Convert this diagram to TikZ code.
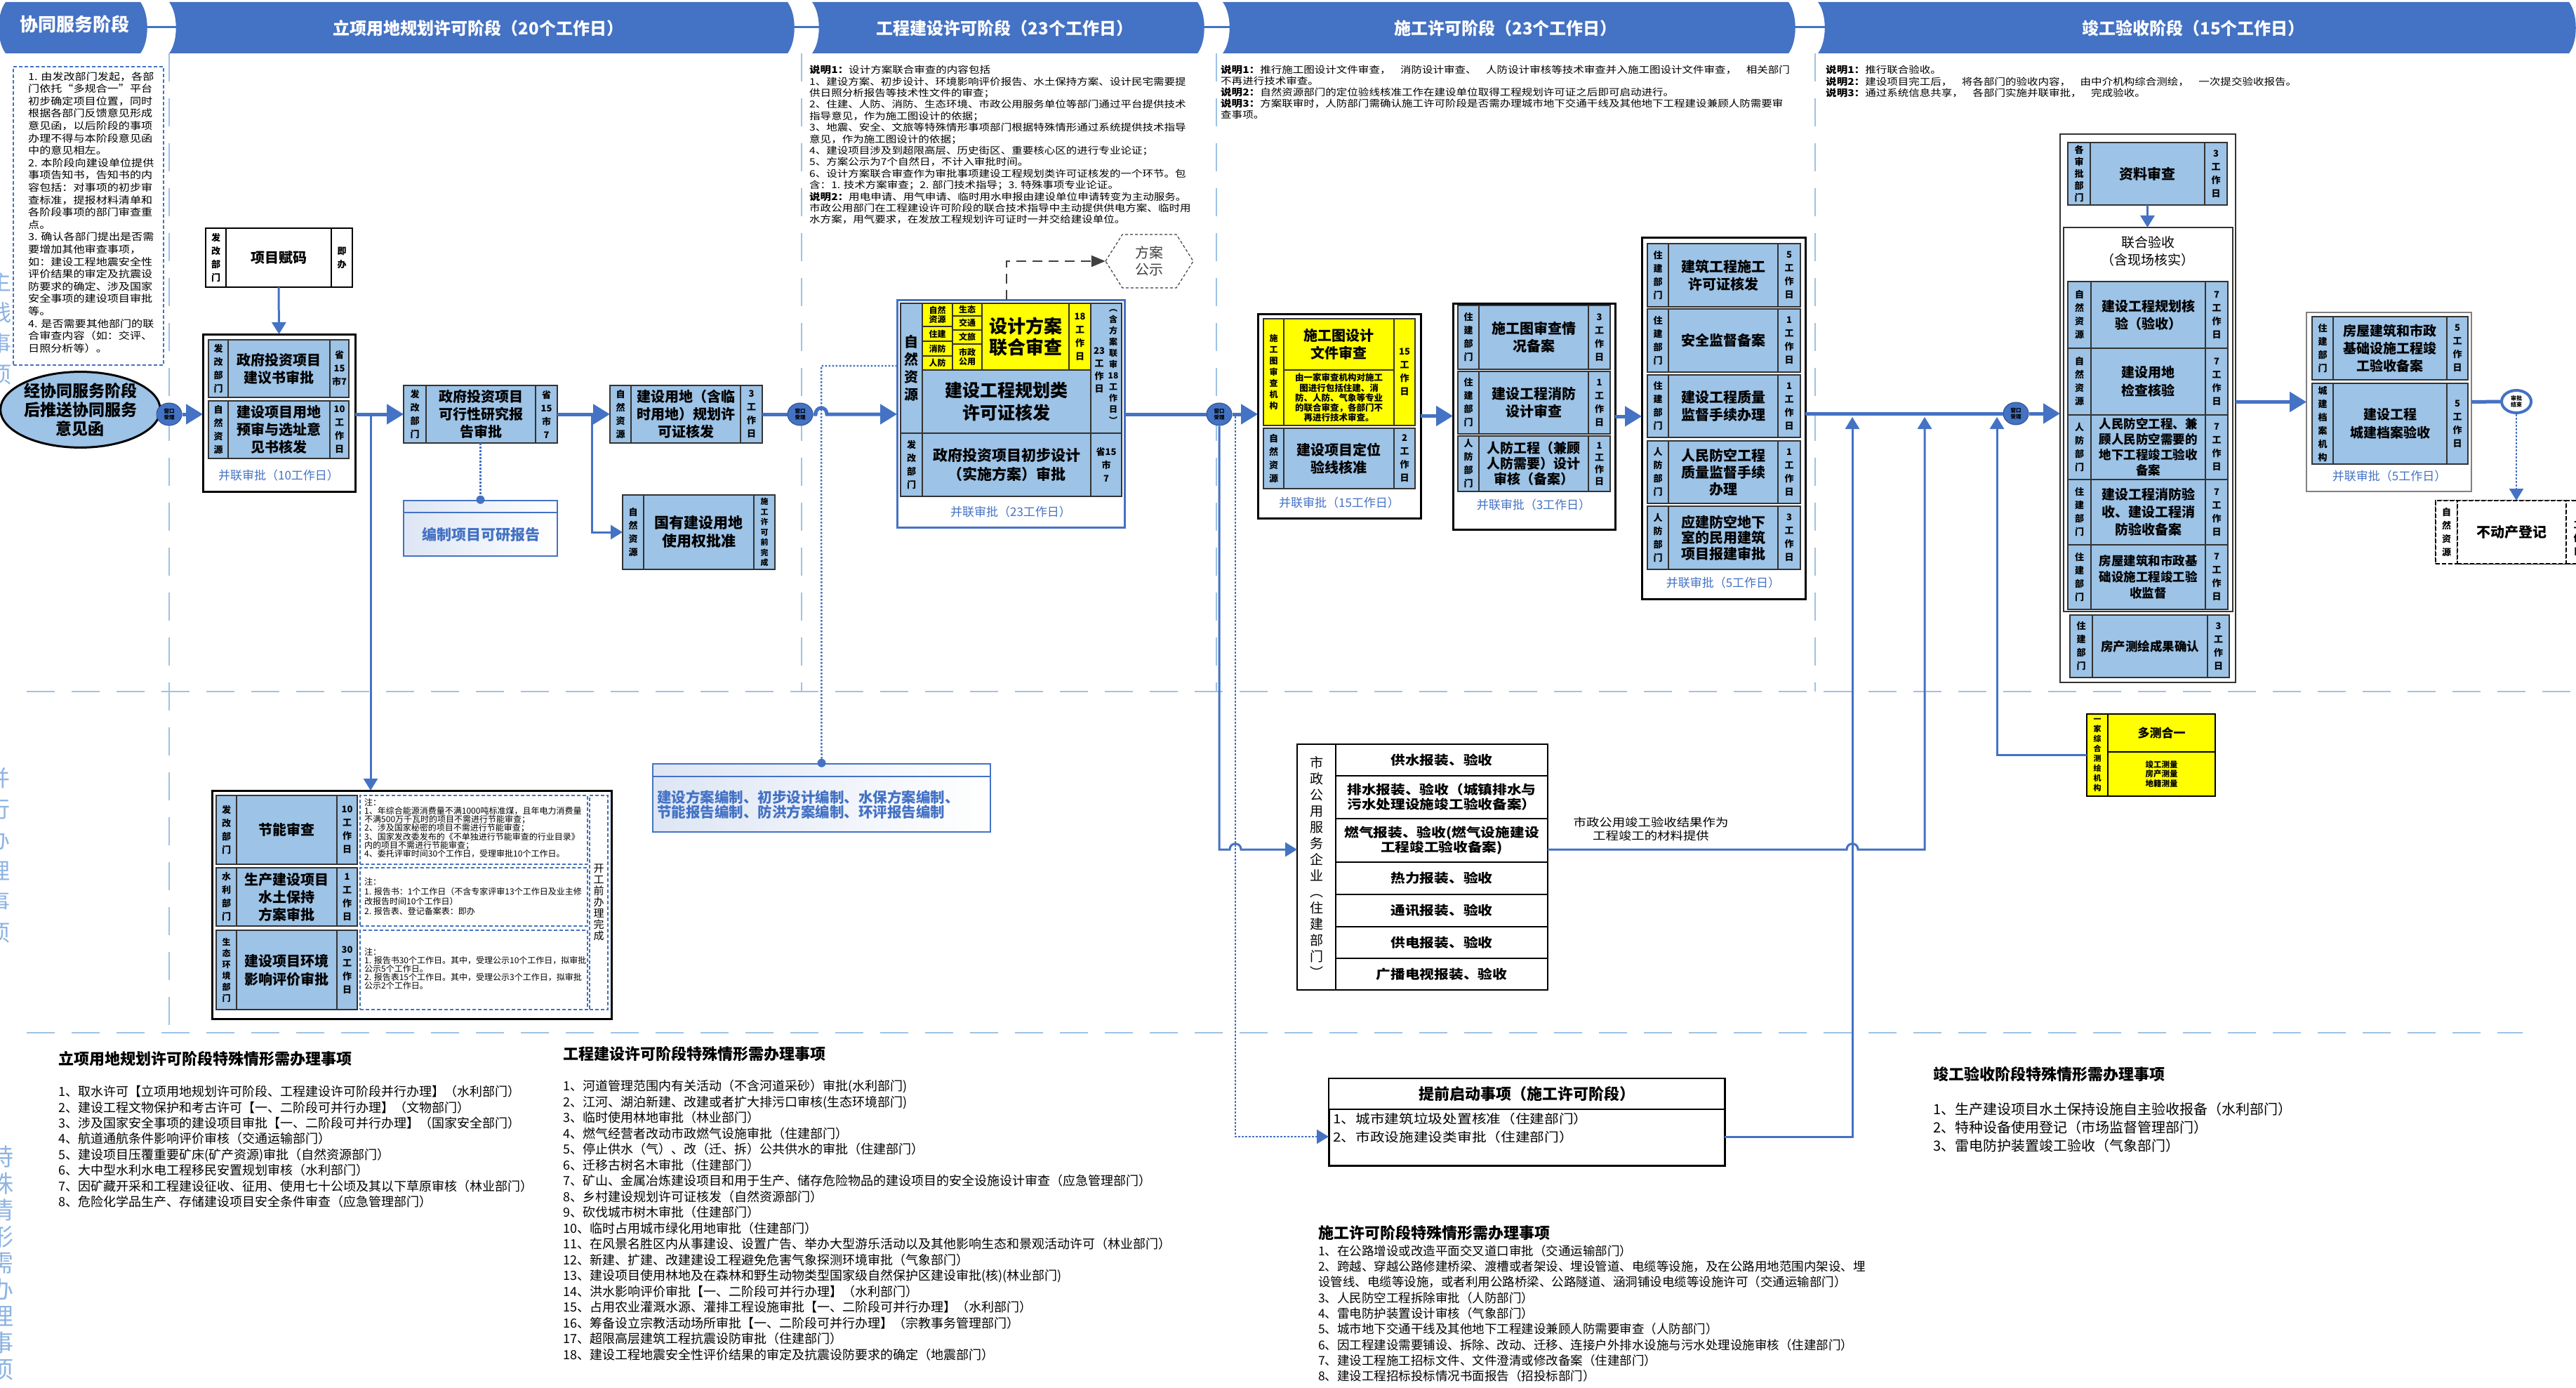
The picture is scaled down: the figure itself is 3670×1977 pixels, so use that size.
\documentclass[tikz,border=0pt]{standalone}
\usepackage{fontspec}
\setmainfont{Noto Sans CJK SC}
\newfontfamily\sfn{Noto Sans CJK SC}[FakeStretch=1.15]
\usetikzlibrary{arrows.meta,shapes.geometric,calc}
\definecolor{hb}{HTML}{4472C4}
\definecolor{cb}{HTML}{9DC3E6}
\definecolor{yl}{HTML}{FFFF00}
\definecolor{lbl}{HTML}{8EB4E3}
\definecolor{cbd}{HTML}{333333}
\definecolor{dg}{HTML}{404040}
\newcommand\fs[2]{\fontsize{#1}{#2}\selectfont}
\newcommand\cell[8][]{%
 \pgfmathsetmacro\cellW{#5-#3}\pgfmathsetmacro\cellH{#6-#4}%
 \pgfmathsetmacro\cellX{(#3+#5)/2}\pgfmathsetmacro\cellY{(#4+#6)/2}%
 \node[cellbase,fill=#7,minimum width=\cellW pt,minimum height=\cellH pt,#1] (#2) at (\cellX,\cellY) {#8};}
\newcommand\tabshape[4]{%
 \fill[hb] (#2,3) -- (#3,3) .. controls ({#3+13},20) and ({#3+13},59) .. (#3,76) -- (#2,76) .. controls ({#2+13},59) and ({#2+13},20) .. (#2,3) -- cycle;
 \node[headtxt] (#1) at ({(#2+#3)/2},40) {#4};}
\tikzset{
 cellbase/.style={draw=cbd,line width=1.5pt,inner sep=0pt,outer sep=0pt,align=center,text=black},
 grp/.style={draw=black,line width=3pt},
 vl/.style={font=\bfseries\fs{13}{#1}},vl/.default=19,
 ys/.style={font=\bfseries\fs{12}{12.5}},
 mt/.style 2 args={font=\bfseries\fs{#1}{#2}},
 lab/.style={text=hb,font=\fs{17}{20},inner sep=0pt},
 headtxt/.style={text=white,font=\bfseries\fs{24}{28},inner sep=0pt},
 sep/.style={draw=cb,line width=2.5pt,dash pattern=on 40pt off 24pt},
 main/.style={draw=hb,line width=5pt},
 mainarr/.style={main,-{Triangle[length=24pt,width=28pt]}},
 sec/.style={draw=hb,line width=3pt},
 secarr/.style={sec,-{Triangle[length=17pt,width=20pt]}},
 dotl/.style={draw=hb,line width=2.5pt,dash pattern=on 2.5pt off 2.5pt},
 dotarr/.style={dotl,-{Triangle[length=17pt,width=20pt]}},
 win/.style={ellipse,fill=hb,draw=hb!70!black,line width=1pt,minimum width=36pt,minimum height=32pt,inner sep=0pt,align=center,font=\bfseries\fs{7.5}{8.5},text=black},
 note/.style={anchor=north west,inner sep=0pt,align=left},
 side/.style={text=lbl,font=\fs{32}{44},align=center,inner sep=0pt},
 nbox/.style={draw=hb,line width=1.2pt,dash pattern=on 5pt off 3pt},
}
\begin{document}
\begin{tikzpicture}[x=1pt,y=-1pt]
\useasboundingbox (0,0) rectangle (3670,1977);
\fill[white] (0,0) rectangle (3670,1977);

% side labels (clipped at the page edge)
\node[side] (s1) at (0,467) {主\\线\\事\\项};
\node[side] (s2) at (-1,1218) {并\\行\\办\\理\\事\\项};
\node[side,font=\fs{34}{37.8}] (s3) at (3,1799) {特\\殊\\情\\形\\需\\办\\理\\事\\项};

% separators
\draw[sep] (241,76) -- (241,1471);
\draw[sep] (1142,76) -- (1142,985);
\draw[sep] (1733,76) -- (1733,985);
\draw[sep] (2586,76) -- (2586,985);
\draw[sep] (38,985) -- (3670,985);
\draw[sep] (38,1471) -- (3594,1471);

% header
\foreach \a/\b in {200/252,1118/1168,1700/1754,2545/2602} \draw[hb,line width=3pt] (\a,39) -- (\b,39);
\fill[hb] (8,3) -- (200,3) .. controls (213,20) and (213,59) .. (200,76) -- (8,76) .. controls (-5,59) and (-5,20) .. (8,3) -- cycle;
\node[headtxt,font=\bfseries\fs{26}{30}] (t1) at (106,34) {协同服务阶段};
\tabshape{t2}{241}{1122}{立项用地规划许可阶段（20个工作日）}
\tabshape{t3}{1157}{1706}{工程建设许可阶段（23个工作日）}
\tabshape{t4}{1742}{2548}{施工许可阶段（23个工作日）}
\tabshape{t5}{2590}{3660}{竣工验收阶段（15个工作日）}

% notes
\cell[nbox]{nb1}{19}{95}{233}{520}{white}{}
\node[note,font=\sfn\fs{14}{17.6}] (nt1) at (40,102) {1. 由发改部门发起，各部\\门依托“多规合一”平台\\初步确定项目位置，同时\\根据各部门反馈意见形成\\意见函，以后阶段的事项\\办理不得与本阶段意见函\\中的意见相左。\\2. 本阶段向建设单位提供\\事项告知书，告知书的内\\容包括：对事项的初步审\\查标准，提报材料清单和\\各阶段事项的部门审查重\\点。\\3. 确认各部门提出是否需\\要增加其他审查事项，\\如：建设工程地震安全性\\评价结果的审定及抗震设\\防要求的确定、涉及国家\\安全事项的建设项目审批\\等。\\4. 是否需要其他部门的联\\合审查内容（如：交评、\\日照分析等）。};
\node[note,font=\sfn\fs{13.5}{16.4}] (nt2) at (1153,93) {\textbf{说明1：}设计方案联合审查的内容包括\\1、建设方案、初步设计、环境影响评价报告、水土保持方案、设计民宅需要提\\供日照分析报告等技术性文件的审查；\\2、住建、人防、消防、生态环境、市政公用服务单位等部门通过平台提供技术\\指导意见，作为施工图设计的依据；\\3、地震、安全、文旅等特殊情形事项部门根据特殊情形通过系统提供技术指导\\意见，作为施工图设计的依据；\\4、建设项目涉及到超限高层、历史街区、重要核心区的进行专业论证；\\5、方案公示为7个自然日，不计入审批时间。\\6、设计方案联合审查作为审批事项建设工程规划类许可证核发的一个环节。包\\含：1. 技术方案审查；2. 部门技术指导；3. 特殊事项专业论证。\\\textbf{说明2：}用电申请、用气申请、临时用水申报由建设单位申请转变为主动服务。\\市政公用部门在工程建设许可阶段的联合技术指导中主动提供供电方案、临时用\\水方案，用气要求，在发放工程规划许可证时一并交给建设单位。};
\node[note,font=\sfn\fs{13.5}{16}] (nt3) at (1739,93) {\textbf{说明1：}推行施工图设计文件审查，\quad 消防设计审查、\quad 人防设计审核等技术审查并入施工图设计文件审查，\quad 相关部门\\不再进行技术审查。\\\textbf{说明2：}自然资源部门的定位验线核准工作在建设单位取得工程规划许可证之后即可启动进行。\\\textbf{说明3：}方案联审时，人防部门需确认施工许可阶段是否需办理城市地下交通干线及其他地下工程建设兼顾人防需要审\\查事项。};
\node[note,font=\sfn\fs{13.5}{16.5}] (nt4) at (2601,93) {\textbf{说明1：}推行联合验收。\\\textbf{说明2：}建设项目完工后，\quad 将各部门的验收内容，\quad 由中介机构综合测绘，\quad 一次提交验收报告。\\\textbf{说明3：}通过系统信息共享，\quad 各部门实施并联审批，\quad 完成验收。};

% oval and first window
\node[ellipse,draw=black,line width=3pt,fill=cb,minimum width=197pt,minimum height=107pt,inner sep=0pt,align=center,font=\bfseries\fs{23}{27}] (ov) at (114.5,583.5) {经协同服务阶段\\后推送协同服务\\意见函};
\node[win] (c1) at (241,590) {窗口\\受理};

% project code
\cell[vl,draw=black,line width=2pt]{fm1}{293}{325}{322}{409}{white}{发\\改\\部\\门}
\cell[mt={20}{25},draw=black,line width=2pt]{fm2}{322}{325}{472}{409}{white}{项目赋码}
\cell[vl,draw=black,line width=2pt]{fm3}{472}{325}{502}{409}{white}{即\\办}

% g1
\cell[grp]{g1}{289}{476}{506}{700}{white}{}
\cell[vl]{g1a1}{297}{484}{325}{566}{cb}{发\\改\\部\\门}
\cell[mt={20}{25}]{g1a2}{325}{484}{470}{566}{cb}{政府投资项目\\建议书审批}
\cell[vl]{g1a3}{470}{484}{497}{566}{cb}{省\\15\\市7}
\cell[vl]{g1b1}{297}{571}{325}{653}{cb}{自\\然\\资\\源}
\cell[mt={20}{25}]{g1b2}{325}{571}{470}{653}{cb}{建设项目用地\\预审与选址意\\见书核发}
\cell[vl]{g1b3}{470}{571}{497}{653}{cb}{10\\工\\作\\日}
\node[lab] (g1l) at (397,677) {并联审批（10工作日）};

% b2
\cell{b2}{575}{549}{794}{631}{cb}{}
\cell[vl]{b2a}{575}{549}{607}{631}{cb}{发\\改\\部\\门}
\cell[mt={20}{25}]{b2b}{607}{549}{763}{631}{cb}{政府投资项目\\可行性研究报\\告审批}
\cell[vl]{b2c}{763}{549}{794}{631}{cb}{省\\15\\市\\7}
\node[draw=hb,line width=2.5pt,left color=hb!18,right color=white,minimum width=219pt,minimum height=79pt,inner sep=0pt] (kyb) at (684.5,752.5) {};
\draw[hb,line width=1.5pt] (kyb.north west) ++(0,18) -- ++(219,0);
\node[text=hb,font=\bfseries\fs{21}{25},inner sep=0pt] (kybt) at (685,762) {编制项目可研报告};

% b3, b4
\cell{b3}{869}{549}{1086}{631}{cb}{}
\cell[vl]{b3a}{869}{549}{899}{631}{cb}{自\\然\\资\\源}
\cell[mt={20}{25}]{b3b}{899}{549}{1055}{631}{cb}{建设用地（含临\\时用地）规划许\\可证核发}
\cell[vl]{b3c}{1055}{549}{1086}{631}{cb}{3\\工\\作\\日}
\cell{b4}{887}{705}{1104}{811}{cb}{}
\cell[vl]{b4a}{887}{705}{917}{811}{cb}{自\\然\\资\\源}
\cell[mt={21}{26}]{b4b}{917}{705}{1074}{811}{cb}{国有建设用地\\使用权批准}
\cell[font=\bfseries\fs{11}{14.5}]{b4c}{1074}{705}{1104}{811}{cb}{施\\工\\许\\可\\前\\完\\成}
\node[win] (c2) at (1140,590) {窗口\\受理};

% g3
\cell[draw=hb,line width=3pt]{g3}{1278}{427}{1602}{751}{white}{}
\cell[mt={20}{25}]{g3a}{1283}{432}{1314}{617}{cb}{自\\然\\资\\源}
\cell[ys]{g3y1}{1314}{432}{1357}{465}{yl}{自然\\资源}
\cell[ys]{g3y2}{1314}{465}{1357}{486}{yl}{住建}
\cell[ys]{g3y3}{1314}{486}{1357}{507}{yl}{消防}
\cell[ys]{g3y4}{1314}{507}{1357}{527}{yl}{人防}
\cell[ys]{g3y5}{1357}{432}{1399}{450}{yl}{生态}
\cell[ys]{g3y6}{1357}{450}{1399}{470}{yl}{交通}
\cell[ys]{g3y7}{1357}{470}{1399}{490}{yl}{文旅}
\cell[ys]{g3y8}{1357}{490}{1399}{527}{yl}{市政\\公用}
\cell[mt={26}{30}]{g3y9}{1399}{432}{1523}{527}{yl}{设计方案\\联合审查}
\cell[vl]{g3y10}{1523}{432}{1554}{527}{yl}{18\\工\\作\\日}
\cell[mt={25}{32}]{g3b}{1314}{527}{1554}{617}{cb}{建设工程规划类\\许可证核发}
\cell{g3r}{1554}{432}{1598}{617}{cb}{}
\node[font=\bfseries\fs{13}{18},align=center,inner sep=0pt] (g3r1) at (1566,527) {23\\工\\作\\日};
\node[font=\bfseries\fs{12}{16},align=center,inner sep=0pt] (g3r2) at (1586,522) {︵\\含\\方\\案\\联\\审\\18\\工\\作\\日\\︶};
\cell[vl]{g3c1}{1283}{617}{1314}{707}{cb}{发\\改\\部\\门}
\cell[mt={21}{27}]{g3c2}{1314}{617}{1554}{707}{cb}{政府投资项目初步设计\\（实施方案）审批}
\cell[vl]{g3c3}{1554}{617}{1598}{707}{cb}{省15\\市\\7}
\node[lab] (g3l) at (1440,729) {并联审批（23工作日）};
\draw[dg,line width=1.2pt,dash pattern=on 4pt off 3pt] (1575,372) -- (1599,334) -- (1676,334) -- (1700,372) -- (1676,410) -- (1599,410) -- cycle;
\node[minimum width=125pt,minimum height=76pt,inner sep=0pt,align=center,text=dg,font=\fs{20}{24}] (hex) at (1637.5,372) {方案\\公示};
\coordinate (hx) at (1434,372);
\draw[dg,line width=2.5pt,dash pattern=on 14pt off 9pt,-{Triangle[length=20pt,width=16pt]}] (hx |- g3.north) -- (hx) -- (hex.west);
\node[win] (c3) at (1737,590) {窗口\\受理};

% fab box
\node[draw=hb,line width=2.5pt,left color=hb!18,right color=white,minimum width=481pt,minimum height=97pt,inner sep=0pt] (fab) at (1170.5,1136.5) {};
\draw[hb,line width=1.5pt] (fab.north west) ++(0,19) -- ++(481,0);
\node[anchor=west,align=left,text=hb,font=\bfseries\fs{20.5}{21.5},inner sep=0pt] (fabt) at (936,1146) {建设方案编制、初步设计编制、水保方案编制、\\节能报告编制、防洪方案编制、环评报告编制};

% g4
\cell[grp]{g4}{1792}{447}{2024}{738}{white}{}
\cell[font=\bfseries\fs{12}{16}]{g4a1}{1800}{454}{1829}{606}{yl}{施\\工\\图\\审\\查\\机\\构}
\cell[mt={20}{25}]{g4a2}{1829}{454}{1986}{527}{yl}{施工图设计\\文件审查}
\cell[font=\bfseries\fs{12.5}{14.3}]{g4a3}{1829}{527}{1986}{606}{yl}{由一家审查机构对施工\\图进行包括住建、消\\防、人防、气象等专业\\的联合审查，各部门不\\再进行技术审查。}
\cell[vl]{g4a4}{1986}{454}{2016}{606}{yl}{15\\工\\作\\日}
\cell[vl]{g4b1}{1800}{610}{1829}{696}{cb}{自\\然\\资\\源}
\cell[mt={20}{25}]{g4b2}{1829}{610}{1986}{696}{cb}{建设项目定位\\验线核准}
\cell[vl]{g4b3}{1986}{610}{2016}{696}{cb}{2\\工\\作\\日}
\node[lab] (g4l) at (1908,716) {并联审批（15工作日）};

% g5
\cell[grp]{g5}{2070}{432}{2301}{754}{white}{}
\cell[vl]{g5a1}{2077}{435}{2107}{526}{cb}{住\\建\\部\\门}
\cell[mt={20}{25}]{g5a2}{2107}{435}{2263}{526}{cb}{施工图审查情\\况备案}
\cell[vl]{g5a3}{2263}{435}{2294}{526}{cb}{3\\工\\作\\日}
\cell[vl]{g5b1}{2077}{529}{2107}{618}{cb}{住\\建\\部\\门}
\cell[mt={20}{25}]{g5b2}{2107}{529}{2263}{618}{cb}{建设工程消防\\设计审查}
\cell[vl]{g5b3}{2263}{529}{2294}{618}{cb}{1\\工\\作\\日}
\cell[vl]{g5c1}{2077}{621}{2107}{700}{cb}{人\\防\\部\\门}
\cell[mt={19}{22}]{g5c2}{2107}{621}{2263}{700}{cb}{人防工程（兼顾\\人防需要）设计\\审核（备案）}
\cell[vl=17]{g5c3}{2263}{621}{2294}{700}{cb}{1\\工\\作\\日}
\node[lab] (g5l) at (2185,719) {并联审批（3工作日）};

% g6
\cell[grp]{g6}{2339}{338}{2572}{853}{white}{}
\cell[vl]{g6a1}{2347}{347}{2377}{437}{cb}{住\\建\\部\\门}
\cell[mt={20}{25}]{g6a2}{2377}{347}{2533}{437}{cb}{建筑工程施工\\许可证核发}
\cell[vl]{g6a3}{2533}{347}{2565}{437}{cb}{5\\工\\作\\日}
\cell[vl]{g6b1}{2347}{440}{2377}{530}{cb}{住\\建\\部\\门}
\cell[mt={20}{25}]{g6b2}{2377}{440}{2533}{530}{cb}{安全监督备案}
\cell[vl]{g6b3}{2533}{440}{2565}{530}{cb}{1\\工\\作\\日}
\cell[vl]{g6c1}{2347}{534}{2377}{623}{cb}{住\\建\\部\\门}
\cell[mt={20}{25}]{g6c2}{2377}{534}{2533}{623}{cb}{建设工程质量\\监督手续办理}
\cell[vl]{g6c3}{2533}{534}{2565}{623}{cb}{1\\工\\作\\日}
\cell[vl]{g6d1}{2347}{628}{2377}{717}{cb}{人\\防\\部\\门}
\cell[mt={20}{24}]{g6d2}{2377}{628}{2533}{717}{cb}{人民防空工程\\质量监督手续\\办理}
\cell[vl]{g6d3}{2533}{628}{2565}{717}{cb}{1\\工\\作\\日}
\cell[vl]{g6e1}{2347}{721}{2377}{811}{cb}{人\\防\\部\\门}
\cell[mt={20}{22.5}]{g6e2}{2377}{721}{2533}{811}{cb}{应建防空地下\\室的民用建筑\\项目报建审批}
\cell[vl]{g6e3}{2533}{721}{2565}{811}{cb}{3\\工\\作\\日}
\node[lab] (g6l) at (2455,830) {并联审批（5工作日）};
\node[win] (c4) at (2872,589) {窗口\\受理};

% g7
\cell[draw=cbd,line width=2pt]{g7}{2935}{191}{3185}{972}{white}{}
\cell{zl}{2946}{203}{3173}{292}{cb}{}
\cell[vl=17]{zl1}{2946}{203}{2978}{292}{cb}{各\\审\\批\\部\\门}
\cell[mt={20}{25}]{zl2}{2978}{203}{3141}{292}{cb}{资料审查}
\cell[vl]{zl3}{3141}{203}{3173}{292}{cb}{3\\工\\作\\日}
\cell[draw=cbd,line width=1.5pt]{lh}{2940}{324}{3181}{871}{white}{}
\node[font=\fs{19}{25},align=center,inner sep=0pt] (lht) at (3060,358) {联合验收\\（含现场核实）};
\cell[vl]{g7a1}{2946}{401}{2979}{496}{cb}{自\\然\\资\\源}
\cell[mt={19}{25}]{g7a2}{2979}{401}{3142}{496}{cb}{建设工程规划核\\验（验收）}
\cell[vl]{g7a3}{3142}{401}{3174}{496}{cb}{7\\工\\作\\日}
\cell[vl]{g7b1}{2946}{496}{2979}{591}{cb}{自\\然\\资\\源}
\cell[mt={19}{26}]{g7b2}{2979}{496}{3142}{591}{cb}{建设用地\\检查核验}
\cell[vl]{g7b3}{3142}{496}{3174}{591}{cb}{7\\工\\作\\日}
\cell[vl]{g7c1}{2946}{591}{2979}{683}{cb}{人\\防\\部\\门}
\cell[mt={17.5}{22}]{g7c2}{2979}{591}{3142}{683}{cb}{人民防空工程、兼\\顾人民防空需要的\\地下工程竣工验收\\备案}
\cell[vl]{g7c3}{3142}{591}{3174}{683}{cb}{7\\工\\作\\日}
\cell[vl]{g7d1}{2946}{683}{2979}{776}{cb}{住\\建\\部\\门}
\cell[mt={19}{25}]{g7d2}{2979}{683}{3142}{776}{cb}{建设工程消防验\\收、建设工程消\\防验收备案}
\cell[vl]{g7d3}{3142}{683}{3174}{776}{cb}{7\\工\\作\\日}
\cell[vl]{g7e1}{2946}{776}{2979}{868}{cb}{住\\建\\部\\门}
\cell[mt={17.5}{23}]{g7e2}{2979}{776}{3142}{868}{cb}{房屋建筑和市政基\\础设施工程竣工验\\收监督}
\cell[vl]{g7e3}{3142}{776}{3174}{868}{cb}{7\\工\\作\\日}
\cell[vl]{g7f1}{2949}{876}{2981}{965}{cb}{住\\建\\部\\门}
\cell[mt={17.5}{22}]{g7f2}{2981}{876}{3145}{965}{cb}{房产测绘成果确认}
\cell[vl]{g7f3}{3145}{876}{3176}{965}{cb}{3\\工\\作\\日}

% g8
\cell[draw=gray,line width=2pt]{g8}{3286}{445}{3521}{700}{white}{}
\cell[vl]{g8a1}{3294}{451}{3324}{541}{cb}{住\\建\\部\\门}
\cell[mt={19}{25}]{g8a2}{3324}{451}{3486}{541}{cb}{房屋建筑和市政\\基础设施工程竣\\工验收备案}
\cell[vl]{g8a3}{3486}{451}{3516}{541}{cb}{5\\工\\作\\日}
\cell[vl]{g8b1}{3294}{546}{3324}{661}{cb}{城\\建\\档\\案\\机\\构}
\cell[mt={19}{26}]{g8b2}{3324}{546}{3486}{661}{cb}{建设工程\\城建档案验收}
\cell[vl]{g8b3}{3486}{546}{3516}{661}{cb}{5\\工\\作\\日}
\node[lab] (g8l) at (3404,678) {并联审批（5工作日）};
\node[ellipse,draw=hb,line width=4pt,fill=white,minimum width=42pt,minimum height=32pt,inner sep=0pt,align=center,font=\bfseries\fs{8}{9}] (ce) at (3585,572) {审批\\结束};
\cell[draw=black,line width=1.5pt,dash pattern=on 6pt off 3pt]{bdc}{3470}{713}{3700}{803}{white}{}
\cell[vl,draw=black,line width=1.5pt,dash pattern=on 6pt off 3pt]{bdc1}{3470}{713}{3501}{803}{white}{自\\然\\资\\源}
\cell[mt={20}{25},draw=black,line width=1.5pt,dash pattern=on 6pt off 3pt]{bdc2}{3501}{713}{3656}{803}{white}{不动产登记}
\cell[vl,draw=black,line width=1.5pt,dash pattern=on 6pt off 3pt]{bdc3}{3656}{713}{3690}{803}{white}{1\\工\\作\\日}

% multi survey
\cell[draw=black,line width=2pt]{dc}{2973}{1017}{3156}{1134}{yl}{}
\cell[font=\bfseries\fs{11}{14},draw=black]{dc1}{2973}{1017}{3003}{1134}{yl}{一\\家\\综\\合\\测\\绘\\机\\构}
\cell[mt={17}{20},draw=black]{dc2}{3003}{1017}{3156}{1071}{yl}{多测合一}
\cell[font=\bfseries\fs{11.5}{13.5},draw=black]{dc3}{3003}{1071}{3156}{1134}{yl}{竣工测量\\房产测量\\地籍测量}

% g10
\cell[grp]{g10}{302}{1126}{871}{1451}{white}{}
\cell[vl]{g10a1}{308}{1133}{337}{1231}{cb}{发\\改\\部\\门}
\cell[mt={20}{25}]{g10a2}{337}{1133}{480}{1231}{cb}{节能审查}
\cell[vl]{g10a3}{480}{1133}{509}{1231}{cb}{10\\工\\作\\日}
\cell[vl]{g10b1}{308}{1236}{337}{1319}{cb}{水\\利\\部\\门}
\cell[mt={20}{25}]{g10b2}{337}{1236}{480}{1319}{cb}{生产建设项目\\水土保持\\方案审批}
\cell[vl]{g10b3}{480}{1236}{509}{1319}{cb}{1\\工\\作\\日}
\cell[font=\bfseries\fs{12}{16}]{g10c1}{308}{1325}{337}{1438}{cb}{生\\态\\环\\境\\部\\门}
\cell[mt={20}{26}]{g10c2}{337}{1325}{480}{1438}{cb}{建设项目环境\\影响评价审批}
\cell[vl]{g10c3}{480}{1325}{509}{1438}{cb}{30\\工\\作\\日}
\cell[nbox]{g10n1}{513}{1133}{837}{1231}{white}{}
\cell[nbox]{g10n2}{513}{1236}{837}{1319}{white}{}
\cell[nbox]{g10n3}{513}{1325}{837}{1438}{white}{}
\cell[nbox,font=\fs{15}{16}]{g10k}{840}{1133}{866}{1438}{white}{开\\工\\前\\办\\理\\完\\成}
\node[note,font=\fs{12}{12.2}] (g10t1) at (519,1137) {注：\\1、年综合能源消费量不满1000吨标准煤，且年电力消费量\\不满500万千瓦时的项目不需进行节能审查；\\2、涉及国家秘密的项目不需进行节能审查；\\3、国家发改委发布的《不单独进行节能审查的行业目录》\\内的项目不需进行节能审查；\\4、委托评审时间30个工作日，受理审批10个工作日。};
\node[note,font=\fs{12}{14}] (g10t2) at (519,1250) {注：\\1. 报告书：1个工作日（不含专家评审13个工作日及业主修\\改报告时间10个工作日）\\2. 报告表、登记备案表：即办};
\node[note,font=\fs{12}{12}] (g10t3) at (519,1350) {注：\\1. 报告书30个工作日。其中，受理公示10个工作日，拟审批\\公示5个工作日。\\2. 报告表15个工作日。其中，受理公示3个工作日，拟审批\\公示2个工作日。};

% municipal utilities
\cell[draw=black,line width=2pt]{muni}{1848}{1060}{2205}{1410}{white}{}
\cell[draw=black,font=\fs{19}{23}]{mu0}{1848}{1060}{1903}{1410}{white}{市\\政\\公\\用\\服\\务\\企\\业\\︵\\住\\建\\部\\门\\︶}
\cell[draw=black,font=\sfn\bfseries\fs{18}{21}]{mu1}{1903}{1060}{2205}{1105}{white}{供水报装、验收}
\cell[draw=black,font=\sfn\bfseries\fs{18}{21}]{mu2}{1903}{1105}{2205}{1166}{white}{排水报装、验收（城镇排水与\\污水处理设施竣工验收备案）}
\cell[draw=black,font=\sfn\bfseries\fs{18}{21}]{mu3}{1903}{1166}{2205}{1228}{white}{燃气报装、验收(燃气设施建设\\工程竣工验收备案)}
\cell[draw=black,font=\sfn\bfseries\fs{18}{21}]{mu4}{1903}{1228}{2205}{1274}{white}{热力报装、验收}
\cell[draw=black,font=\sfn\bfseries\fs{18}{21}]{mu5}{1903}{1274}{2205}{1320}{white}{通讯报装、验收}
\cell[draw=black,font=\sfn\bfseries\fs{18}{21}]{mu6}{1903}{1320}{2205}{1365}{white}{供电报装、验收}
\cell[draw=black,font=\sfn\bfseries\fs{18}{21}]{mu7}{1903}{1365}{2205}{1410}{white}{广播电视报装、验收}
\node[font=\sfn\fs{16}{19},align=center,inner sep=0pt] (mut) at (2352,1181) {市政公用竣工验收结果作为\\工程竣工的材料提供};

% early start box
\cell[draw=black,line width=3pt]{tq}{1893}{1536}{2457}{1660}{white}{}
\cell[draw=black,line width=2pt,mt={22}{26}]{tq1}{1893}{1536}{2457}{1580}{white}{提前启动事项（施工许可阶段）}
\node[note,font=\sfn\fs{18}{26}] (tq2) at (1899,1585) {1、城市建筑垃圾处置核准（住建部门）\\2、市政设施建设类审批（住建部门）};

% ---------------- connectors ----------------
\draw[main] (ov.east |- c1) -- (c1.west);
\draw[mainarr] (c1.east) -- (c1.east -| g1.west);
\draw[secarr] (fm2.south) -- (g1.north);
\draw[mainarr] (g1.east |- b2) -- (b2.west);
\coordinate (j1) at (528,590);
\draw[secarr] (j1) -- (j1 |- g10.north);
\draw[mainarr] (b2.east) -- (b3.west);
\coordinate (j2) at (843,590);
\draw[secarr] (j2) |- (b4.west);
\draw[dotl] (b2.south) -- (kyb.north);
\fill[hb] (kyb.north) circle (6pt);
\draw[main] (b3.east) -- (c2.west);
\draw[mainarr] (c2.east) -- (1162,590) .. controls (1162,578) and (1178,578) .. (1178,590) -- (c2 -| g3.west);
\coordinate (dj) at (1170,521);
\draw[dotl] (dj -| g3.west) -- (dj) -- (fab.north);
\fill[hb] (fab.north) circle (6pt);
\draw[main] (g3.east |- c3) -- (c3.west);
\draw[mainarr] (c3.east) -- (c3 -| g4.west);
\draw[secarr] (c3.south) -- (1737,1210) -- (1752,1210) .. controls (1752,1199) and (1768,1199) .. (1768,1210) -- (1848,1210);
\coordinate (q1) at (1760,1619);
\draw[dotarr] (1760,593) -- (q1) -- (q1 -| tq.west);
\draw[mainarr] (g4.east) -- (g4.east -| g5.west);
\draw[mainarr] (g5.east) -- (g5.east -| g6.west);
\draw[main] (g6.east |- c4) -- (c4.west);
\draw[mainarr] (c4.east) -- (c4 -| g7.west);
\coordinate (u1) at (2639,1619);
\draw[secarr] (u1 -| tq.east) -- (u1) -- (2639,594);
\coordinate (u2) at (2742,1210);
\draw[secarr] (2205,1210) -- (2631,1210) .. controls (2631,1199) and (2647,1199) .. (2647,1210) -- (u2) -- (2742,594);
\coordinate (u3) at (2845,1075);
\draw[secarr] (u3 -| dc.west) -- (u3) -- (2845,594);
\draw[secarr] (zl.south) -- (zl.south |- lh.north);
\draw[mainarr] (g8.west -| g7.east) -- (g8.west);
\draw[main] (g8.east) -- (ce.west);
\draw[dotarr] (ce.south) -- (bdc.north);

% ---------------- special-case lists ----------------
\node[anchor=west,font=\bfseries\fs{22}{26},inner sep=0pt] (h1) at (83,1508) {立项用地规划许可阶段特殊情形需办理事项};
\node[note,font=\fs{18}{22.4}] (l1) at (83,1546) {1、取水许可【立项用地规划许可阶段、工程建设许可阶段并行办理】（水利部门）\\2、建设工程文物保护和考古许可【一、二阶段可并行办理】（文物部门）\\3、涉及国家安全事项的建设项目审批【一、二阶段可并行办理】（国家安全部门）\\4、航道通航条件影响评价审核（交通运输部门）\\5、建设项目压覆重要矿床(矿产资源)审批（自然资源部门）\\6、大中型水利水电工程移民安置规划审核（水利部门）\\7、因矿藏开采和工程建设征收、征用、使用七十公顷及其以下草原审核（林业部门）\\8、危险化学品生产、存储建设项目安全条件审查（应急管理部门）};
\node[anchor=west,font=\bfseries\fs{22}{26},inner sep=0pt] (h2) at (802,1501) {工程建设许可阶段特殊情形需办理事项};
\node[note,font=\fs{18}{22.5}] (l2) at (802,1538) {1、河道管理范围内有关活动（不含河道采砂）审批(水利部门)\\2、江河、湖泊新建、改建或者扩大排污口审核(生态环境部门)\\3、临时使用林地审批（林业部门）\\4、燃气经营者改动市政燃气设施审批（住建部门）\\5、停止供水（气）、改（迁、拆）公共供水的审批（住建部门）\\6、迁移古树名木审批（住建部门）\\7、矿山、金属冶炼建设项目和用于生产、储存危险物品的建设项目的安全设施设计审查（应急管理部门）\\8、乡村建设规划许可证核发（自然资源部门）\\9、砍伐城市树木审批（住建部门）\\10、临时占用城市绿化用地审批（住建部门）\\11、在风景名胜区内从事建设、设置广告、举办大型游乐活动以及其他影响生态和景观活动许可（林业部门）\\12、新建、扩建、改建建设工程避免危害气象探测环境审批（气象部门）\\13、建设项目使用林地及在森林和野生动物类型国家级自然保护区建设审批(核)(林业部门)\\14、洪水影响评价审批【一、二阶段可并行办理】（水利部门）\\15、占用农业灌溉水源、灌排工程设施审批【一、二阶段可并行办理】（水利部门）\\16、筹备设立宗教活动场所审批【一、二阶段可并行办理】（宗教事务管理部门）\\17、超限高层建筑工程抗震设防审批（住建部门）\\18、建设工程地震安全性评价结果的审定及抗震设防要求的确定（地震部门）};
\node[anchor=west,font=\bfseries\fs{22}{26},inner sep=0pt] (h3) at (1878,1756) {施工许可阶段特殊情形需办理事项};
\node[note,font=\fs{17.5}{22.3}] (l3) at (1878,1773) {1、在公路增设或改造平面交叉道口审批（交通运输部门）\\2、跨越、穿越公路修建桥梁、渡槽或者架设、埋设管道、电缆等设施，及在公路用地范围内架设、埋\\设管线、电缆等设施，或者利用公路桥梁、公路隧道、涵洞铺设电缆等设施许可（交通运输部门）\\3、人民防空工程拆除审批（人防部门）\\4、雷电防护装置设计审核（气象部门）\\5、城市地下交通干线及其他地下工程建设兼顾人防需要审查（人防部门）\\6、因工程建设需要铺设、拆除、改动、迁移、连接户外排水设施与污水处理设施审核（住建部门）\\7、建设工程施工招标文件、文件澄清或修改备案（住建部门）\\8、建设工程招标投标情况书面报告（招投标部门）};
\node[anchor=west,font=\bfseries\fs{22}{26},inner sep=0pt] (h4) at (2754,1530) {竣工验收阶段特殊情形需办理事项};
\node[note,font=\fs{20}{26}] (l4) at (2754,1570) {1、生产建设项目水土保持设施自主验收报备（水利部门）\\2、特种设备使用登记（市场监督管理部门）\\3、雷电防护装置竣工验收（气象部门）};
\end{tikzpicture}
\end{document}
